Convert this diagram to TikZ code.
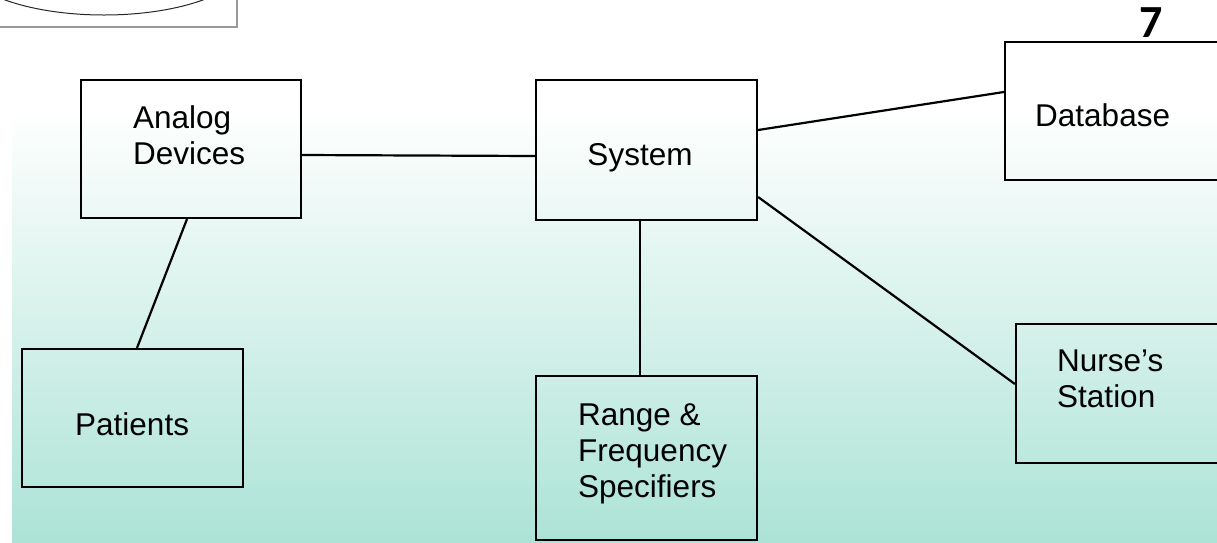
\documentclass[tikz,border=0pt]{standalone}
\usepackage{fontspec}
\setmainfont{Liberation Sans}
\newfontfamily\numfont{Carlito}
\usetikzlibrary{positioning}
\definecolor{bgteal}{RGB}{172,227,214}
\tikzstyle{box}  = [draw=black, line width=2.2pt, rectangle, inner sep=0pt]
\tikzstyle{lbl}  = [inner sep=0pt, align=left, font=\fontsize{31.5}{36}\selectfont]
\tikzstyle{link} = [line width=2.2pt]

\begin{document}
\begin{tikzpicture}[x=1pt,y=-1pt]
\useasboundingbox (0,0) rectangle (1217,542);
\clip (0,0) rectangle (1217,542);
% background
\shade[top color=white, bottom color=bgteal] (12,110) rectangle (1217,542);
% corner frame
\draw[gray!80, line width=1.2pt] (0,27) -- (237,27) -- (237,0);
\draw[black!85, line width=1pt] (104,-40) ellipse [x radius=144, y radius=55];
% page number
\node[anchor=base, inner sep=0pt, font=\numfont\bfseries\fontsize{46}{46}\selectfont] (num) at (1151,37) {7};
% boxes
\node[box, minimum width=220, minimum height=138] (analog) at (191,149) {};
\node[box, minimum width=221, minimum height=140] (system) at (646.5,150) {};
\node[box, minimum width=235, minimum height=138] (database) at (1122.5,111) {};
\node[box, minimum width=221, minimum height=138] (patients) at (132.5,418) {};
\node[box, minimum width=221, minimum height=164] (range) at (646.5,458) {};
\node[box, minimum width=224, minimum height=139] (nurse) at (1128,393.5) {};
% texts (base = last line)
\node[lbl, anchor=base west] (analogtxt) at (133,164) {Analog\\Devices};
\node[lbl, anchor=base] (systemtxt) at (640,165) {System};
\node[lbl, anchor=base west] (databasetxt) at (1035,126) {Database};
\node[lbl, anchor=base west] (patientstxt) at (75,435) {Patients};
\node[lbl, anchor=base west] (rangetxt) at (578,497) {Range \&\\Frequency\\Specifiers};
\node[lbl, anchor=base west] (nursetxt) at (1057,407) {Nurse’s\\Station};
% links
\draw[link] ([yshift=-6pt]analog.east) -- ([yshift=-6pt]system.west);
\draw[link] ([xshift=-4pt]analog.south) -- ([xshift=4.5pt]patients.north);
\draw[link] ([xshift=-6.5pt]system.south) -- ([xshift=-6.5pt]range.north);
\draw[link] ([yshift=20pt]system.east) -- ([yshift=19pt]database.west);
\draw[link] ([yshift=-47pt]system.east) -- ([yshift=9.5pt]nurse.west);
\end{tikzpicture}
\end{document}
